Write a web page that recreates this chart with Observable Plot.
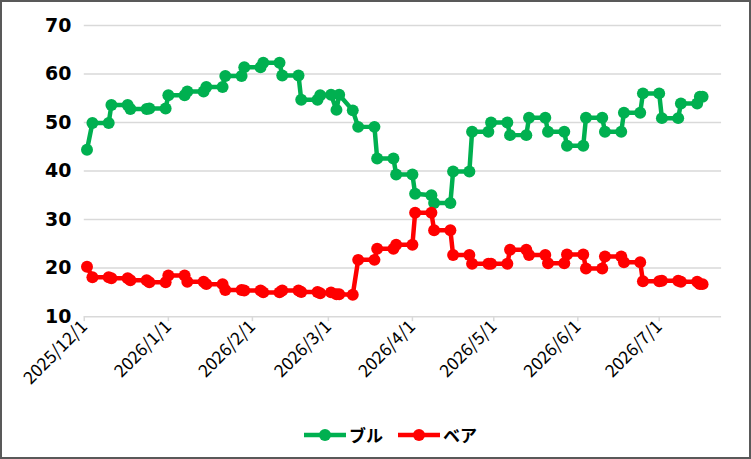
<!DOCTYPE html>
<html><head><meta charset="utf-8">
<script src="https://cdn.jsdelivr.net/npm/d3@7"></script>
<script src="https://cdn.jsdelivr.net/npm/@observablehq/plot@0.6"></script>
<style>
body{margin:0;background:#fff;}
#frame{position:relative;width:751px;height:459px;box-sizing:border-box;border:2px solid #595959;overflow:hidden;background:#fff;}
#chart{position:absolute;left:-2px;top:-2px;}
#legend{position:absolute;left:301px;top:420px;display:flex;align-items:center;font-family:"Noto Sans CJK JP";font-weight:bold;font-size:17px;color:#000;}
#legend .item{display:flex;align-items:center;margin-right:14px;}
#legend svg{margin-right:2px;}
</style></head><body>
<div id="frame"><div id="chart"></div><div id="legend"></div></div>
<script>
const dates = [
"2025-12-02",
"2025-12-04","2025-12-10","2025-12-11","2025-12-17","2025-12-18","2025-12-24","2025-12-25","2025-12-31",
"2026-01-01","2026-01-07","2026-01-08","2026-01-14","2026-01-15","2026-01-21","2026-01-22","2026-01-28",
"2026-01-29","2026-02-04","2026-02-05","2026-02-11","2026-02-12","2026-02-18","2026-02-19","2026-02-25",
"2026-02-26","2026-03-02","2026-03-04","2026-03-05","2026-03-10","2026-03-12","2026-03-18","2026-03-19","2026-03-25",
"2026-03-26","2026-04-01","2026-04-02","2026-04-08","2026-04-09","2026-04-15","2026-04-16","2026-04-22",
"2026-04-23","2026-04-29","2026-04-30","2026-05-06","2026-05-07","2026-05-13","2026-05-14","2026-05-20",
"2026-05-21","2026-05-27","2026-05-28","2026-06-03","2026-06-04","2026-06-10","2026-06-11","2026-06-17",
"2026-06-18","2026-06-24","2026-06-25","2026-07-01","2026-07-02","2026-07-08","2026-07-09","2026-07-15",
"2026-07-16","2026-07-17"
];
const bull = [
44.4,
49.9,49.9,53.6,53.6,52.8,52.8,52.9,52.9,
55.6,55.6,56.4,56.4,57.3,57.3,59.6,59.6,
61.4,61.4,62.3,62.3,59.7,59.7,54.7,54.7,
55.6,55.7,52.6,55.7,52.5,49.1,49.1,42.6,42.6,
39.3,39.3,35.3,35.0,33.4,33.4,39.9,39.9,
48.1,48.1,50.0,50.0,47.4,47.4,51.0,51.0,
48.1,48.1,45.2,45.2,51.0,51.0,48.1,48.1,
52.0,52.0,56.0,56.0,50.9,50.9,53.9,53.9,
55.3,55.3
];
const bear = [
20.3,
18.1,18.1,17.9,17.9,17.5,17.5,17.1,17.1,
18.5,18.5,17.2,17.2,16.7,16.7,15.5,15.5,
15.4,15.4,15.0,15.0,15.4,15.4,15.1,15.1,
14.8,15.0,14.6,14.6,14.5,21.7,21.7,24.0,24.0,
24.8,24.8,31.4,31.4,27.8,27.8,22.7,22.7,
20.9,20.9,20.9,20.9,23.8,23.8,22.7,22.7,
21.0,21.0,22.8,22.8,19.9,19.9,22.4,22.4,
21.2,21.2,17.3,17.3,17.4,17.4,17.2,17.2,
16.7,16.7
];
const seriesNames = ["ブル","ベア"];
const seriesColors = ["#00b050","#ff0000"];
const yTicks = [10,20,30,40,50,60,70];
const xTickDates = ["2025-12-01","2026-01-01","2026-02-01","2026-03-01","2026-04-01","2026-05-01","2026-06-01","2026-07-01"];
const xTickLabels = ["2025/12/1","2026/1/1","2026/2/1","2026/3/1","2026/4/1","2026/5/1","2026/6/1","2026/7/1"];
const xDomain = ["2025-12-01","2026-07-24"];

const parse = d3.utcParse("%Y-%m-%d");
const bullData = dates.map((d,i)=>({date:parse(d), value:bull[i]}));
const bearData = dates.map((d,i)=>({date:parse(d), value:bear[i]}));
const tickDates = xTickDates.map(parse);

const chart = Plot.plot({
  width:751, height:410,
  marginTop:25, marginBottom:93, marginLeft:84, marginRight:28,
  style:{background:"transparent", overflow:"visible"},
  x:{type:"utc", domain:xDomain.map(parse)},
  y:{domain:[10,70]},
  marks:[
    Plot.gridY(yTicks,{stroke:"#d9d9d9", strokeOpacity:1, strokeWidth:1.5}),
    Plot.axisY(yTicks,{tickSize:0, tickPadding:13, fontSize:19, fontWeight:"bold", fontFamily:"DejaVu Sans", fill:"#000", label:null}),
    Plot.axisX(tickDates,{tickSize:5, stroke:"#d9d9d9", strokeWidth:1.5, tickPadding:2, tickRotate:-45,
      tickFormat:(d,i)=>xTickLabels[i], fontSize:17.5, fontFamily:"Noto Sans CJK JP", fill:"#000", label:null}),
    Plot.line(bullData,{x:"date", y:"value", stroke:seriesColors[0], strokeWidth:4.5}),
    Plot.dot(bullData,{x:"date", y:"value", fill:seriesColors[0], r:6}),
    Plot.line(bearData,{x:"date", y:"value", stroke:seriesColors[1], strokeWidth:4.5}),
    Plot.dot(bearData,{x:"date", y:"value", fill:seriesColors[1], r:6})
  ]
});
document.getElementById("chart").appendChild(chart);

const legend = document.getElementById("legend");
seriesNames.forEach((name,i)=>{
  const item = document.createElement("div");
  item.className="item";
  item.innerHTML = `<svg width="44" height="14"><line x1="1" y1="7" x2="43" y2="7" stroke="${seriesColors[i]}" stroke-width="4.5"/><circle cx="22" cy="7" r="6" fill="${seriesColors[i]}"/></svg><span>${name}</span>`;
  legend.appendChild(item);
});
</script>
</body></html>
